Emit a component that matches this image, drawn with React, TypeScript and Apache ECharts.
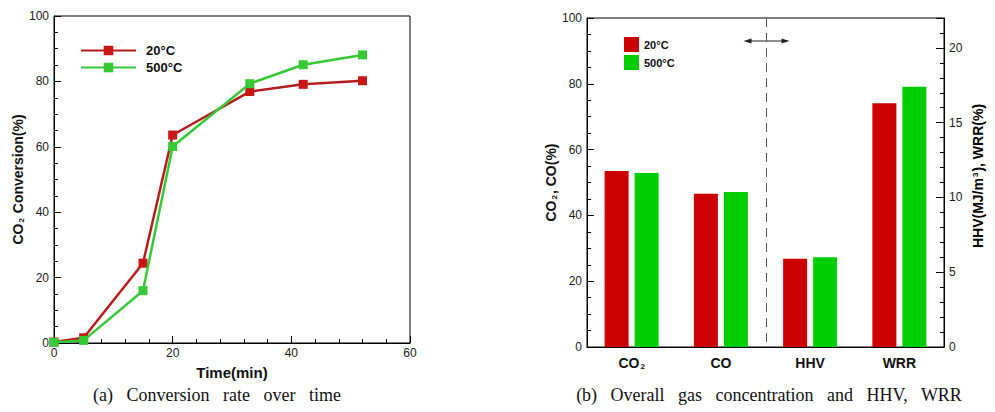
import React, { useEffect, useRef } from "react";
import * as echarts from "echarts";

// ---- Data: (a) conversion over time ----
const timeMin = [0, 5, 15, 20, 33, 42, 52];
const conv20 = [0.3, 1.6, 24.4, 63.6, 76.9, 79.1, 80.2];
const conv500 = [0.2, 0.8, 16.0, 60.1, 79.3, 85.1, 88.1];

// ---- Data: (b) gas concentration, HHV, WRR ----
const categories = ["CO2", "CO", "HHV", "WRR"];
const gas20 = [53.5, 46.6, "-", "-"];
const gas500 = [52.9, 47.1, "-", "-"];
const hhvWrr20 = ["-", "-", 5.9, 16.3];
const hhvWrr500 = ["-", "-", 6.0, 17.4];

const seriesLabels: Record<string, string> = {
  a20: "20°C",
  a500: "500°C",
  b20: "20°C",
  b500: "500°C",
};

const RED_LINE = "#b51d1d";
const RED_MARK = "#c81616";
const GREEN_LINE = "#36c936";
const RED_BAR = "#cc0000";
const GREEN_BAR = "#00cc00";
const SANS = "Liberation Sans, Arial, sans-serif";
const SERIF = "Liberation Serif, Times New Roman, serif";

export default function App() {
  const ref = useRef<HTMLDivElement>(null);

  useEffect(() => {
    if (!ref.current) return;
    const chart = echarts.init(ref.current, null, { renderer: "svg" });

    const tickLabel = { color: "#1a1a1a", fontSize: 12, fontFamily: SANS };
    const axisLine = { show: true, lineStyle: { color: "#000", width: 1 } };
    const titleRich = {
      n: { fontFamily: SANS, fontWeight: "bold", fontSize: 14, color: "#111" },
      s: { fontFamily: SANS, fontWeight: "bold", fontSize: 8, color: "#111", verticalAlign: "bottom", padding: [6, 1, 0, 1] },
      p: { fontFamily: SANS, fontWeight: "bold", fontSize: 8, color: "#111", verticalAlign: "top", padding: [0, 1, 6, 1] },
    };

    const option: any = {
      animation: false,
      backgroundColor: "#fff",
      grid: [
        { left: 54, top: 16, width: 356, height: 327, show: true, borderColor: "#000", borderWidth: 1, containLabel: false },
        { left: 587, top: 18, width: 357, height: 329, show: true, borderColor: "#000", borderWidth: 1, containLabel: false },
      ],
      legend: [
        {
          left: 80,
          top: 44,
          padding: 0,
          orient: "vertical",
          itemWidth: 55,
          itemHeight: 12,
          itemGap: 4,
          data: ["a20", "a500"],
          formatter: (n: string) => seriesLabels[n],
          textStyle: { fontFamily: SANS, fontWeight: "bold", fontSize: 13, color: "#111", padding: [0, 0, 0, 5] },
        },
        {
          left: 624,
          top: 37,
          padding: 0,
          orient: "vertical",
          itemWidth: 15,
          itemHeight: 15,
          itemGap: 3,
          icon: "rect",
          data: ["b20", "b500"],
          formatter: (n: string) => seriesLabels[n],
          textStyle: { fontFamily: SANS, fontWeight: "bold", fontSize: 11, color: "#111" },
        },
      ],
      xAxis: [
        {
          type: "value",
          gridIndex: 0,
          min: 0,
          max: 60,
          interval: 20,
          name: "Time(min)",
          nameLocation: "middle",
          nameGap: 22,
          nameTextStyle: { fontFamily: SANS, fontWeight: "bold", fontSize: 15, color: "#111" },
          axisLine,
          axisTick: { show: true, inside: true, length: 7, lineStyle: { color: "#000" } },
          minorTick: { show: true, splitNumber: 5, length: 4, lineStyle: { color: "#000" } },
          splitLine: { show: false },
          axisLabel: { ...tickLabel, margin: 4 },
        },
        {
          type: "category",
          gridIndex: 1,
          data: categories,
          axisLine,
          axisTick: { show: false },
          splitLine: { show: false },
          axisLabel: {
            margin: 9,
            formatter: (v: string) => (v === "CO2" ? "{b|CO}{s|2}" : "{b|" + v + "}"),
            rich: {
              b: { fontFamily: SANS, fontWeight: "bold", fontSize: 14, color: "#111" },
              s: { fontFamily: SANS, fontWeight: "bold", fontSize: 8, color: "#111", verticalAlign: "bottom", padding: [6, 0, 0, 1] },
            },
          },
        },
        {
          type: "category",
          gridIndex: 1,
          data: categories,
          show: false,
        },
      ],
      yAxis: [
        {
          type: "value",
          gridIndex: 0,
          min: 0,
          max: 100,
          interval: 20,
          name: "{n|CO}{s|2}{n| Conversion(%)}",
          nameLocation: "middle",
          nameRotate: 90,
          nameGap: 27,
          nameTextStyle: { rich: titleRich },
          axisLine,
          axisTick: { show: true, inside: true, length: 7, lineStyle: { color: "#000" } },
          minorTick: { show: true, splitNumber: 4, length: 4, lineStyle: { color: "#000" } },
          splitLine: { show: false },
          axisLabel: { ...tickLabel, margin: 5 },
        },
        {
          type: "value",
          gridIndex: 1,
          min: 0,
          max: 100,
          interval: 20,
          name: "{n|CO}{s|2}{n|, CO(%)}",
          nameLocation: "middle",
          nameRotate: 90,
          nameGap: 28,
          nameTextStyle: { rich: titleRich },
          axisLine,
          axisTick: { show: true, inside: true, length: 7, lineStyle: { color: "#000" } },
          minorTick: { show: true, splitNumber: 4, length: 4, lineStyle: { color: "#000" } },
          splitLine: { show: false },
          axisLabel: { ...tickLabel, margin: 5 },
        },
        {
          type: "value",
          gridIndex: 1,
          position: "right",
          min: 0,
          max: 22,
          interval: 1,
          axisLine,
          axisTick: { show: true, inside: true, length: 4, lineStyle: { color: "#000" } },
          splitLine: { show: false },
          axisLabel: {
            ...tickLabel,
            margin: 5,
            formatter: (v: number) => (v % 5 === 0 ? String(v) : ""),
          },
        },
        {
          type: "value",
          gridIndex: 1,
          position: "right",
          min: 0,
          max: 22,
          interval: 5,
          axisLine: { show: false },
          axisTick: { show: true, inside: true, length: 8, lineStyle: { color: "#000" } },
          axisLabel: { show: false },
          splitLine: { show: false },
        },
      ],
      series: [
        {
          name: "a20",
          type: "line",
          xAxisIndex: 0,
          yAxisIndex: 0,
          data: timeMin.map((t, i) => [t, conv20[i]]),
          symbol: "rect",
          symbolSize: 9,
          lineStyle: { color: RED_LINE, width: 2.5 },
          itemStyle: { color: RED_MARK },
          z: 3,
        },
        {
          name: "a500",
          type: "line",
          xAxisIndex: 0,
          yAxisIndex: 0,
          data: timeMin.map((t, i) => [t, conv500[i]]),
          symbol: "rect",
          symbolSize: 9,
          lineStyle: { color: GREEN_LINE, width: 2.5 },
          itemStyle: { color: GREEN_LINE },
          z: 4,
        },
        {
          name: "b20",
          type: "bar",
          xAxisIndex: 1,
          yAxisIndex: 1,
          data: gas20,
          barWidth: 24,
          barGap: "25%",
          itemStyle: { color: RED_BAR },
        },
        {
          name: "b500",
          type: "bar",
          xAxisIndex: 1,
          yAxisIndex: 1,
          data: gas500,
          barWidth: 24,
          barGap: "25%",
          itemStyle: { color: GREEN_BAR },
        },
        {
          name: "b20",
          type: "bar",
          xAxisIndex: 2,
          yAxisIndex: 2,
          data: hhvWrr20,
          barWidth: 24,
          barGap: "25%",
          itemStyle: { color: RED_BAR },
        },
        {
          name: "b500",
          type: "bar",
          xAxisIndex: 2,
          yAxisIndex: 2,
          data: hhvWrr500,
          barWidth: 24,
          barGap: "25%",
          itemStyle: { color: GREEN_BAR },
        },
      ],
    };

    chart.setOption(option);

    // Annotations: dashed separator between CO and HHV, double arrow, captions, right axis title
    const pCO = chart.convertToPixel({ xAxisIndex: 1, yAxisIndex: 1 }, ["CO", 0]) as number[];
    const pHHV = chart.convertToPixel({ xAxisIndex: 1, yAxisIndex: 1 }, ["HHV", 100]) as number[];
    const sepX = Math.round((pCO[0] + pHHV[0]) / 2) + 0.5;
    const yTop = pHHV[1];
    const yBot = pCO[1];
    const ay = 41;

    chart.setOption({
      graphic: [
        {
          type: "line",
          shape: { x1: sepX, y1: yTop, x2: sepX, y2: yBot },
          style: { stroke: "#555", lineWidth: 1, lineDash: [9, 6] },
          z: 1,
        },
        {
          type: "line",
          shape: { x1: sepX - 17, y1: ay, x2: sepX + 17, y2: ay },
          style: { stroke: "#222", lineWidth: 1 },
        },
        {
          type: "polygon",
          shape: { points: [[sepX - 23, ay], [sepX - 15, ay - 2.5], [sepX - 15, ay + 2.5]] },
          style: { fill: "#222" },
        },
        {
          type: "polygon",
          shape: { points: [[sepX + 23, ay], [sepX + 15, ay - 2.5], [sepX + 15, ay + 2.5]] },
          style: { fill: "#222" },
        },
        {
          type: "text",
          x: 978,
          y: 176,
          rotation: Math.PI / 2,
          style: {
            text: "{n|HHV(MJ/m}{p|3}{n|), WRR(%)}",
            rich: titleRich,
            align: "center",
            verticalAlign: "middle",
          },
        },
        {
          type: "text",
          x: 217,
          y: 395,
          style: {
            text: "(a)   Conversion   rate   over   time",
            fontFamily: SERIF,
            fontSize: 18,
            fill: "#111",
            align: "center",
            verticalAlign: "middle",
          },
        },
        {
          type: "text",
          x: 769,
          y: 395,
          style: {
            text: "(b)   Overall   gas   concentration   and   HHV,   WRR",
            fontFamily: SERIF,
            fontSize: 18,
            fill: "#111",
            align: "center",
            verticalAlign: "middle",
          },
        },
      ],
    });

    return () => chart.dispose();
  }, []);

  return (
    <div
      ref={ref}
      style={{ position: "fixed", left: 0, top: 0, width: 995, height: 412, background: "#fff" }}
    />
  );
}
